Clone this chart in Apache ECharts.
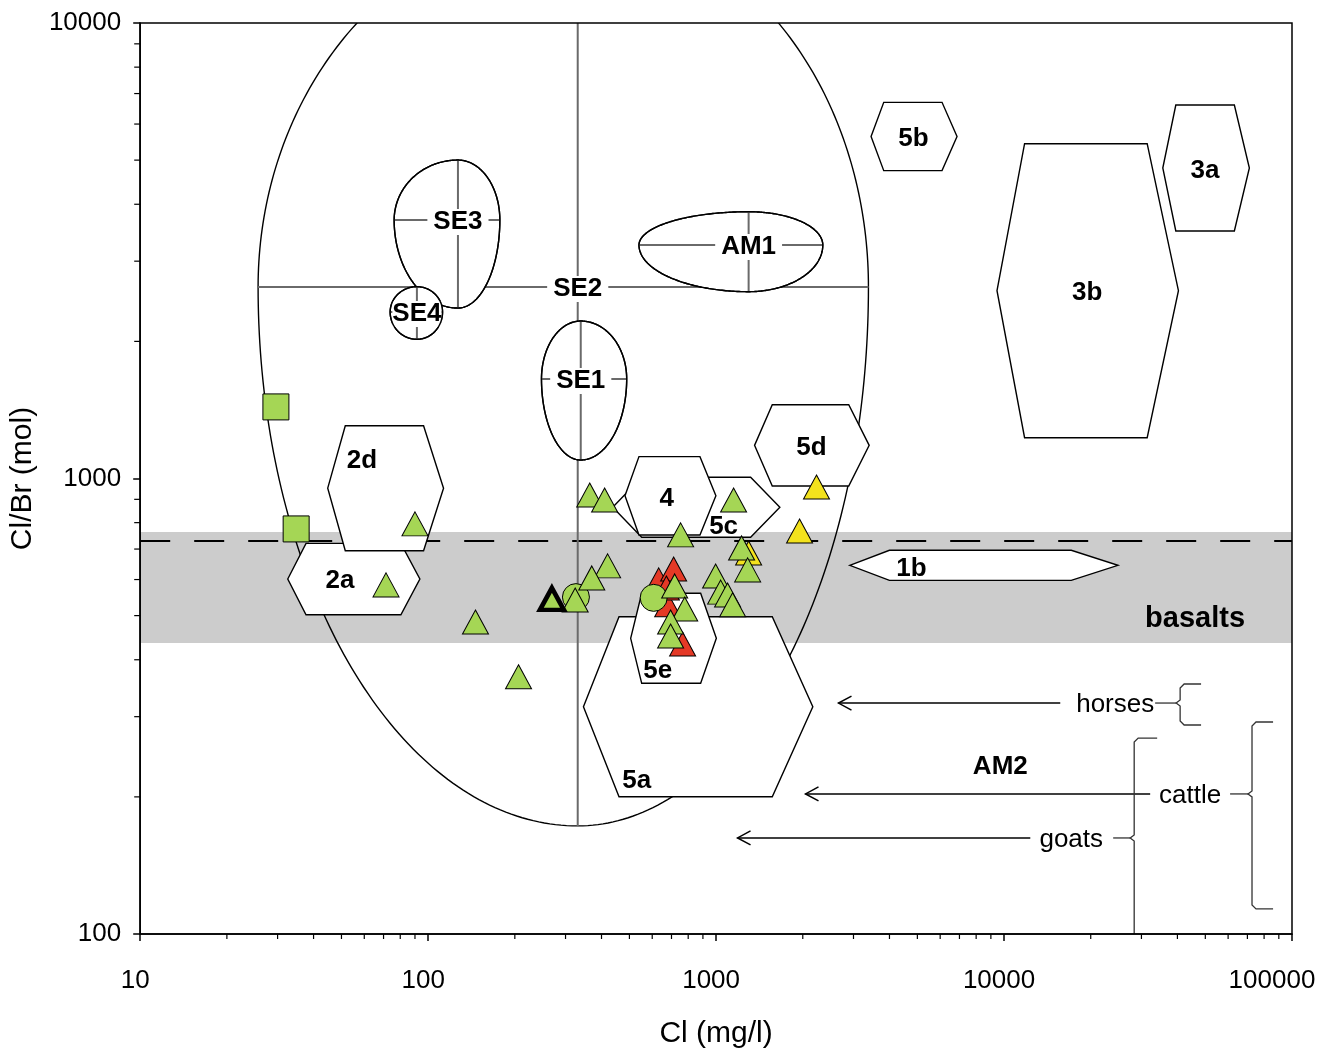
<!DOCTYPE html>
<html><head><meta charset="utf-8">
<script src="https://cdn.jsdelivr.net/npm/echarts@6/dist/echarts.min.js"></script>
<style>html,body{margin:0;padding:0;background:#fff}#c{width:1322px;height:1055px}</style>
</head><body><div id="c"></div>
<script>
// ---------- data ----------
const xTickValues = [10, 100, 1000, 10000, 100000];
const yTickValues = [100, 1000, 10000];

const greenTriangles = [[90,795],[71.4,584],[146,484],[206,367],[364,920],[410,897],[420,643],[370,605],[324,541],
  [753,752],[718,581],[778,517],[695,484],[695,451],[996,611],[1037,563],[1096,555],[1141,528],[1226,704],[1287,630],[1150,897]];
const redTriangles = [[632,599],[712,633],[679,528],[672,575],[765,433]];
const yellowTriangles = [[2232,958],[1949,767],[1297,686]];
const greenSquares = [[29.6,1436],[34.8,775]];
const greenCircles = [[326,549],[607,547]];
const boldTriangle = [[269,544]];

const basaltRange = [435.5, 763];
const basaltReference = 729;

const ellipseNames = ['SE2','SE3','SE4','SE1','AM1'];
// [cx, cy, xLeft, xRight, yTop, yBottom]
const ellipses = [
  [330.7, 2633, 25.67, 3381, 16665, 172.7],
  [126.9, 3694, 76.2, 177.4, 5002, 2367],
  [91.4, 2320, 73.8, 112.2, 2637, 2021],
  [338.8, 1654, 247.5, 489.2, 2217, 1098],
  [1297, 3255, 539.8, 2347, 3852, 2571]
];

const hexNames = ['2a','2d','5c','4','5a','5e','5d','1b','5b','3b','3a'];
// [xLeft, xTopLeft, xTopRight, xRight, yBottom, yTop]
const hexagons = [
  [32.54, 37.66, 80.4, 93.6, 502.3, 720.5],
  [44.8, 51.55, 96.4, 113.1, 694.3, 1306],
  [437.5, 551.6, 1318, 1665, 742.8, 1006],
  [482.6, 539.7, 878.9, 998.4, 751.6, 1117],
  [346.2, 460.1, 1567, 2167, 200.2, 497.3],
  [505, 551.6, 883.8, 1002, 355.1, 559.8],
  [1360, 1567, 2888, 3401, 962.7, 1452],
  [2912, 3999, 17116, 24860, 597.6, 695.7],
  [3453, 3821, 6090, 6866, 4741, 6696],
  [9452, 11784, 31410, 40330, 1229, 5433],
  [35590, 39490, 63070, 71110, 3494, 6607]
];
const hexLabelAt = [[49.4,601.6],[58.9,1104],[1062,790.6],[673.5,910.8],[530,218.9],[626.6,381.8],
  [2145,1179],[4765,639.4],[4843,5620],[19450,2580],[49900,4781]];

const animalNames = ['horses','cattle','goats'];
const animalRatio = [321.4, 203, 162.5];
const animalArrowTip = [2661, 2044, 1187];
const animalArrowTail = [15675, 32170, 12335];
const animalTextAt = [24322, 44290, 17115];
// bracket: [connectorFrom, bracketX, top, bottom, endX]
const animalBrackets = [
  [33470, 40880, 353.9, 287.6, 48330],
  [60950, 72630, 292, 113.5, 85950],
  [23930, 28310, 269.3, 100, 34020]
];
const extraLabels = [['AM2', 9705, 235, 26], ['basalts', 46070, 496.6, 29]];

// ---------- drawing ----------
const FONT = '"Liberation Sans", Arial, Helvetica, sans-serif';
const GREEN = '#a5d655', RED = '#e43926', YELLOW = '#f3e21d';
const TEXT_DY = 2;

function textEl(x, y, text, size, bold, bg) {
  const st = {text: text, font: (bold ? 'bold ' : '') + size + 'px ' + FONT, fill: '#000',
    align: 'center', verticalAlign: 'middle'};
  if (bg) { st.backgroundColor = '#fff'; st.padding = bg; }
  return {type: 'text', x: x, y: y + TEXT_DY, style: st};
}
function line(p1, p2, color, width, dash) {
  const st = {stroke: color, lineWidth: width};
  if (dash) st.lineDash = dash;
  return {type: 'line', shape: {x1: p1[0], y1: p1[1], x2: p2[0], y2: p2[1]}, style: st};
}

function bandItem(params, api) {
  const a = api.coord([10, basaltRange[1]]), b = api.coord([100000, basaltRange[0]]);
  const l1 = api.coord([10, basaltReference]), l2 = api.coord([100000, basaltReference]);
  return {type: 'group', children: [
    {type: 'rect', shape: {x: a[0], y: a[1], width: b[0] - a[0], height: b[1] - a[1]}, style: {fill: '#cccccc'}},
    line(l1, l2, '#000', 2, [30, 24])
  ]};
}

function ellipseItem(params, api) {
  const i = params.dataIndex, e = ellipses[i];
  const c = api.coord([e[0], e[1]]);
  const l = api.coord([e[2], e[1]])[0], r = api.coord([e[3], e[1]])[0];
  const t = api.coord([e[0], e[4]])[1], b = api.coord([e[0], e[5]])[1];
  const pts = [];
  const N = 360;
  for (let k = 0; k < N; k++) {
    const ang = k / N * 2 * Math.PI, cs = Math.cos(ang), sn = Math.sin(ang);
    const rx = cs >= 0 ? r - c[0] : c[0] - l;
    const ry = sn >= 0 ? b - c[1] : c[1] - t;
    pts.push([c[0] + rx * cs, c[1] + ry * sn]);
  }
  const filled = i !== 0;
  const children = [
    {type: 'polygon', shape: {points: pts}, style: {fill: filled ? '#fff' : 'none', stroke: '#000', lineWidth: 1.4}},
    line([c[0], t], [c[0], b], '#6a6a6a', 2),
    line([l, c[1]], [r, c[1]], '#6a6a6a', 2),
    textEl(c[0], c[1], ellipseNames[i], 26, true, (r - l) < 80 ? [0, 0] : [0, 6])
  ];
  if (filled) children.push({type: 'polygon', shape: {points: pts}, style: {fill: 'none', stroke: '#000', lineWidth: 1.4}});
  return {type: 'group', children: children};
}

function hexItem(params, api) {
  const i = params.dataIndex, h = hexagons[i];
  const yMid = Math.sqrt(h[4] * h[5]);
  const pts = [[h[0], yMid], [h[1], h[5]], [h[2], h[5]], [h[3], yMid], [h[2], h[4]], [h[1], h[4]]].map(p => api.coord(p));
  const lab = api.coord(hexLabelAt[i]);
  return {type: 'group', children: [
    {type: 'polygon', shape: {points: pts}, style: {fill: '#fff', stroke: '#000', lineWidth: 1.4}},
    textEl(lab[0], lab[1], hexNames[i], 26, true, null)
  ]};
}

function annotationItem(params, api) {
  const ch = [];
  for (let i = 0; i < animalNames.length; i++) {
    const y = animalRatio[i];
    const tip = api.coord([animalArrowTip[i], y]), tail = api.coord([animalArrowTail[i], y]);
    ch.push(line(tail, tip, '#000', 1.5));
    ch.push({type: 'polyline', shape: {points: [[tip[0] + 13, tip[1] - 7], [tip[0], tip[1]], [tip[0] + 13, tip[1] + 7]]},
      style: {stroke: '#000', lineWidth: 1.5, fill: 'none'}});
    const tp = api.coord([animalTextAt[i], y]);
    ch.push(textEl(tp[0], tp[1], animalNames[i], 26, false, null));
    const br = animalBrackets[i];
    const cf = api.coord([br[0], y]), bx = api.coord([br[1], y]);
    const top = api.coord([br[1], br[2]])[1], bot = api.coord([br[1], br[3]])[1];
    const ex = api.coord([br[4], y])[0];
    ch.push(line(cf, [bx[0] - 4, bx[1]], '#333', 1.3));
    const pts = [[ex, top], [bx[0] + 4, top], [bx[0], top + 4], [bx[0], bx[1] - 3], [bx[0] - 4, bx[1]], [bx[0], bx[1] + 3]];
    if (i === 2) { pts.push([bx[0], bot]); }
    else { pts.push([bx[0], bot - 4], [bx[0] + 4, bot], [ex, bot]); }
    ch.push({type: 'polyline', shape: {points: pts}, style: {stroke: '#333', lineWidth: 1.3, fill: 'none'}});
  }
  for (const lab of extraLabels) {
    const p = api.coord([lab[1], lab[2]]);
    ch.push(textEl(p[0], p[1], lab[0], lab[3], true, null));
  }
  return {type: 'group', children: ch};
}

function frameItem(params, api) {
  const tl = api.coord([10, 10000]), br = api.coord([100000, 100]);
  const ch = [{type: 'rect', shape: {x: tl[0], y: tl[1], width: br[0] - tl[0], height: br[1] - tl[1]},
    style: {fill: 'none', stroke: '#000', lineWidth: 1.5}}];
  for (let d = 10; d < 100000; d *= 10) {
    for (let m = 2; m <= 9; m++) {
      const p = api.coord([d * m, 100]);
      ch.push(line([p[0], p[1]], [p[0], p[1] + 5], '#000', 1.2));
    }
  }
  for (let d = 100; d < 10000; d *= 10) {
    for (let m = 2; m <= 9; m++) {
      const p = api.coord([10, d * m]);
      ch.push(line([p[0], p[1]], [p[0] - 6, p[1]], '#000', 1.2));
    }
  }
  return {type: 'group', children: ch};
}

const triSize = [26, 24];
function scatter(data, symbol, color, size, bw) {
  return {type: 'scatter', data: data, symbol: symbol, symbolSize: size,
    itemStyle: {color: color, borderColor: '#000', borderWidth: bw, opacity: 1}, z: 5, silent: true};
}

const chart = echarts.init(document.getElementById('c'), null, {renderer: 'canvas'});
const option = {
  animation: false,
  backgroundColor: '#fff',
  grid: {left: 139, top: 23, width: 1153, height: 911, containLabel: false},
  xAxis: {type: 'log', logBase: 10, min: xTickValues[0], max: xTickValues[xTickValues.length - 1], splitNumber: 4,
    name: 'Cl (mg/l)', nameLocation: 'middle', nameGap: 85,
    nameTextStyle: {fontSize: 30, fontFamily: FONT, color: '#000'},
    axisLine: {show: true, lineStyle: {color: '#000', width: 1.5}},
    axisTick: {show: true, length: 7, lineStyle: {color: '#000', width: 1.5}},
    axisLabel: {margin: 34, color: '#000', fontSize: 26, fontFamily: FONT,
      formatter: v => { const s = String(Math.round(v)); return s === '100000' ? '{b|' + s + '}' : '{a|' + s + '}'; },
      rich: {a: {fontSize: 26, fontFamily: FONT, color: '#000', padding: [0, 10, 0, 0]},
             b: {fontSize: 26, fontFamily: FONT, color: '#000', padding: [0, 40, 0, 0]}}},
    splitLine: {show: false}, z: 10},
  yAxis: {type: 'log', logBase: 10, min: yTickValues[0], max: yTickValues[yTickValues.length - 1], splitNumber: 2,
    name: 'Cl/Br (mol)', nameLocation: 'middle', nameGap: 95,
    nameTextStyle: {fontSize: 30, fontFamily: FONT, color: '#000'},
    axisLine: {show: true, lineStyle: {color: '#000', width: 1.5}},
    axisTick: {show: true, length: 7, lineStyle: {color: '#000', width: 1.5}},
    axisLabel: {margin: 19, color: '#000', fontSize: 26, fontFamily: FONT, formatter: v => String(Math.round(v))},
    splitLine: {show: false}, z: 10},
  series: [
    {type: 'custom', renderItem: bandItem, data: [[1000, 1000]], clip: true, z: 1, silent: true},
    {type: 'custom', renderItem: ellipseItem, data: ellipses.map(e => [e[0], e[1]]), clip: true, z: 2, silent: true},
    {type: 'custom', renderItem: hexItem, data: hexagons.map(h => [h[0], h[4]]), clip: true, z: 3, silent: true},
    scatter(redTriangles, 'triangle', RED, triSize, 1),
    scatter(yellowTriangles, 'triangle', YELLOW, triSize, 1),
    scatter(greenCircles, 'circle', GREEN, 27, 1),
    scatter(greenTriangles, 'triangle', GREEN, triSize, 1),
    scatter(greenSquares, 'rect', GREEN, 26, 1),
    scatter(boldTriangle, 'triangle', GREEN, [24, 22], 4.5),
    {type: 'custom', renderItem: annotationItem, data: [[1000, 1000]], clip: false, z: 6, silent: true},
    {type: 'custom', renderItem: frameItem, data: [[1000, 1000]], clip: false, z: 7, silent: true}
  ]
};
chart.setOption(option);
</script>
</body></html>
